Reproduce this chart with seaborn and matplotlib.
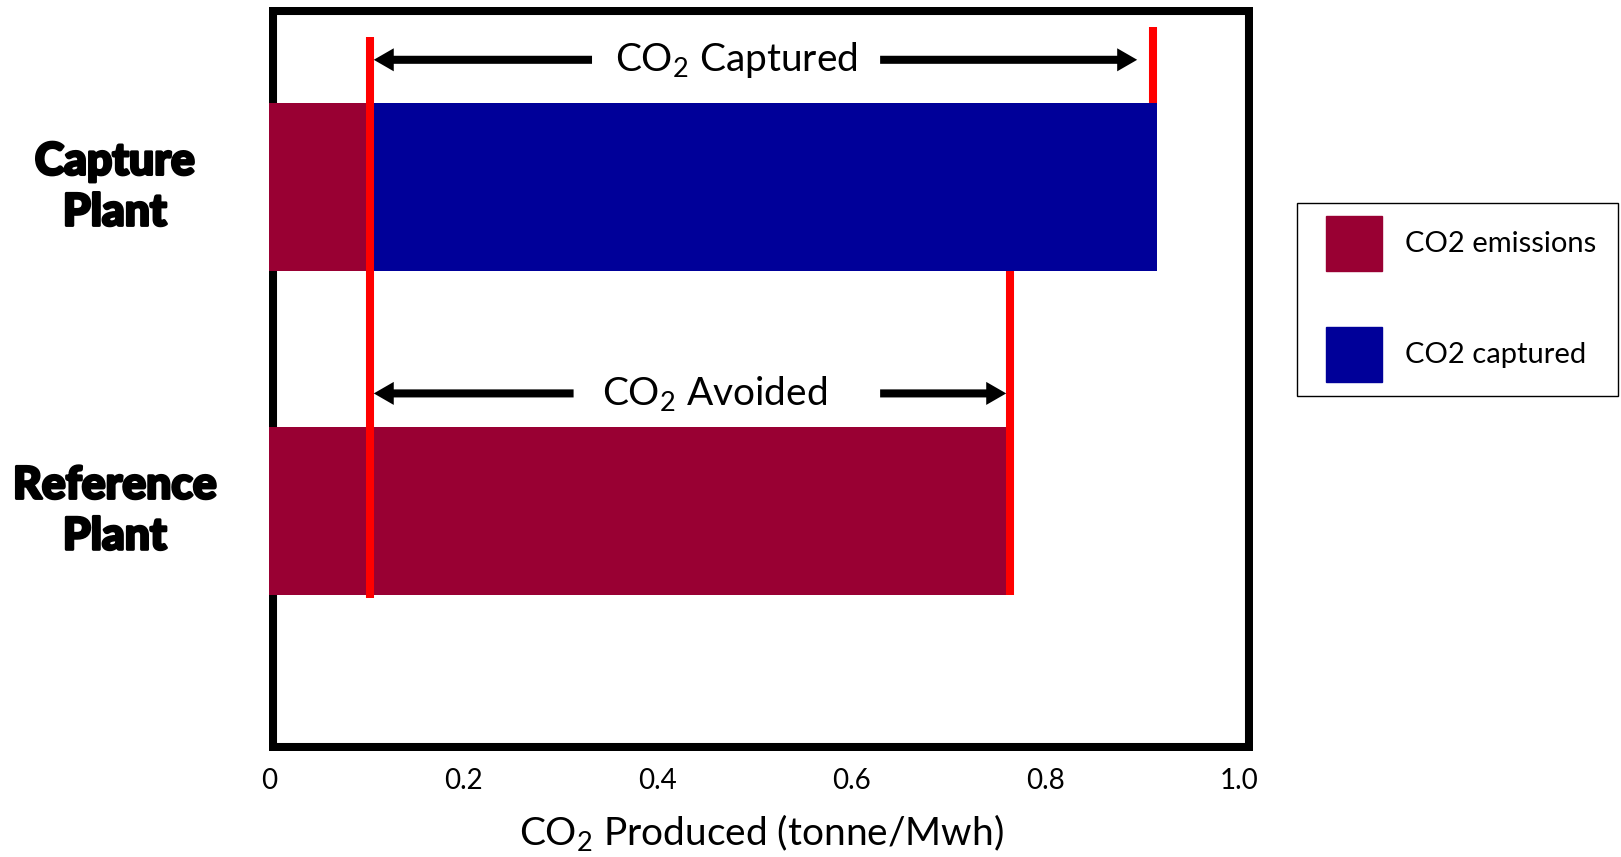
import matplotlib
matplotlib.use("Agg")
import matplotlib.pyplot as plt
from matplotlib.patches import FancyArrowPatch, Patch, Rectangle
import matplotlib.patheffects as pe
import seaborn as sns
import pandas as pd

# ---- data ----
plants = ["Capture\nPlant", "Reference\nPlant"]
co2_emissions = [0.10, 0.76]
co2_captured = [0.815, 0.0]
tick_values = [0, 0.2, 0.4, 0.6, 0.8, 1.0]
tick_labels = ["0", "0.2", "0.4", "0.6", "0.8", "1.0"]
legend_labels = ["CO2 emissions", "CO2 captured"]

MAROON = "#990033"
BLUE = "#000099"
RED = "#ff0000"

sns.set_style("white")
plt.rcParams["font.family"] = ["Lato", "DejaVu Sans"]
plt.rcParams["mathtext.fontset"] = "custom"
plt.rcParams["mathtext.rm"] = "Lato"
plt.rcParams["mathtext.it"] = "Lato:italic"
plt.rcParams["mathtext.bf"] = "Lato:bold"
plt.rcParams["mathtext.default"] = "regular"
for k in ["text.color", "axes.labelcolor", "xtick.color", "ytick.color"]:
    plt.rcParams[k] = "black"

df = pd.DataFrame({
    "plant": plants,
    "emissions": co2_emissions,
    "captured": co2_captured,
})
df["total"] = df["emissions"] + df["captured"]

W, H = 1621, 857
fig = plt.figure(figsize=(W / 100, H / 100), dpi=100)
ax = fig.add_axes([269 / W, 1 - 751 / H, (1253 - 269) / W, (751 - 7) / H])

sns.barplot(data=df, x="total", y="plant", color=BLUE, width=0.52,
            saturation=1, ax=ax, orient="h", zorder=4, linewidth=0)
sns.barplot(data=df, x="emissions", y="plant", color=MAROON, width=0.52,
            saturation=1, ax=ax, orient="h", zorder=5, linewidth=0)

ax.set_xlim(0, 1.0144)
ax.set_ylim(1.741, -0.556)

# frame drawn inside the axes box (bars paint over it, as in the original)
for s in ax.spines.values():
    s.set_visible(False)
fx, fy = 4 / 984, 4 / 744
ax.add_patch(Rectangle((fx, fy), 1 - 2 * fx, 1 - 2 * fy, transform=ax.transAxes,
                       fill=False, edgecolor="black", lw=5.8, zorder=3,
                       joinstyle="miter"))

# red reference lines
cap_em = df.loc[0, "emissions"]
cap_tot = df.loc[0, "total"]
ref_em = df.loc[1, "emissions"]
ax.plot([cap_em + 0.004, cap_em + 0.004], [-0.463, 1.27], color=RED, lw=5.8,
        zorder=6, solid_capstyle="butt")
ax.plot([cap_tot - 0.004, cap_tot - 0.004], [-0.494, -0.26], color=RED,
        lw=5.8, zorder=2, solid_capstyle="butt")
ax.plot([ref_em + 0.004, ref_em + 0.004], [0.26, 1.26], color=RED, lw=5.8,
        zorder=6, solid_capstyle="butt")

arrow_style = "simple,head_length=0.72,head_width=0.83,tail_width=0.29"

def arrow(x0, x1, y):
    ax.add_patch(FancyArrowPatch((x0, y), (x1, y), arrowstyle=arrow_style,
                                 mutation_scale=20, color="black", lw=0,
                                 shrinkA=0, shrinkB=0, zorder=7))

# CO2 captured annotation
y_cap = -0.393
arrow(0.333, cap_em + 0.008, y_cap)
arrow(0.630, cap_tot - 0.02, y_cap)
ax.text(0.482, y_cap, "CO$_2$ Captured", ha="center",
        va="center", fontsize=28, zorder=8)

# CO2 avoided annotation
y_av = 0.637
arrow(0.314, cap_em + 0.008, y_av)
arrow(0.630, ref_em + 0.0, y_av)
ax.text(0.459, y_av, "CO$_2$ Avoided", ha="center", va="center",
        fontsize=28, zorder=8)

# ticks and labels
ax.set_xticks(tick_values)
ax.set_xticklabels(tick_labels)
ax.tick_params(axis="x", length=0, pad=12, labelsize=20)
ax.set_yticks([0, 1])
ax.set_yticklabels(plants, fontsize=32, fontweight=900, ha="center",
                   va="center", linespacing=1.33)
for t in ax.get_yticklabels():
    t.set_path_effects([pe.withStroke(linewidth=2, foreground="black")])
ax.tick_params(axis="y", length=0, pad=111)
ax.set_ylabel("")
ax.set_xlabel("CO$_2$ Produced (tonne/Mwh)", fontsize=28, labelpad=13)

# legend
fig.patches.append(Rectangle((1297 / W, 1 - 396 / H), (1618 - 1297) / W,
                             (396 - 203) / H, transform=fig.transFigure,
                             facecolor="white", edgecolor="black", lw=1.0,
                             zorder=0))
handles = [Patch(facecolor=MAROON, edgecolor=MAROON),
           Patch(facecolor=BLUE, edgecolor=BLUE)]
fs = 21
fs_px = fs * 100 / 72
leg = fig.legend(handles, legend_labels,
                 loc="upper left", bbox_to_anchor=(1326 / W, 1 - 216 / H),
                 bbox_transform=fig.transFigure, borderaxespad=0,
                 borderpad=0, fontsize=fs,
                 handlelength=56 / fs_px,
                 handleheight=(55 / fs_px - 0.245) / 0.65,
                 labelspacing=56 / fs_px, handletextpad=23 / fs_px,
                 frameon=False)

fig.savefig("out.png", dpi=100)
